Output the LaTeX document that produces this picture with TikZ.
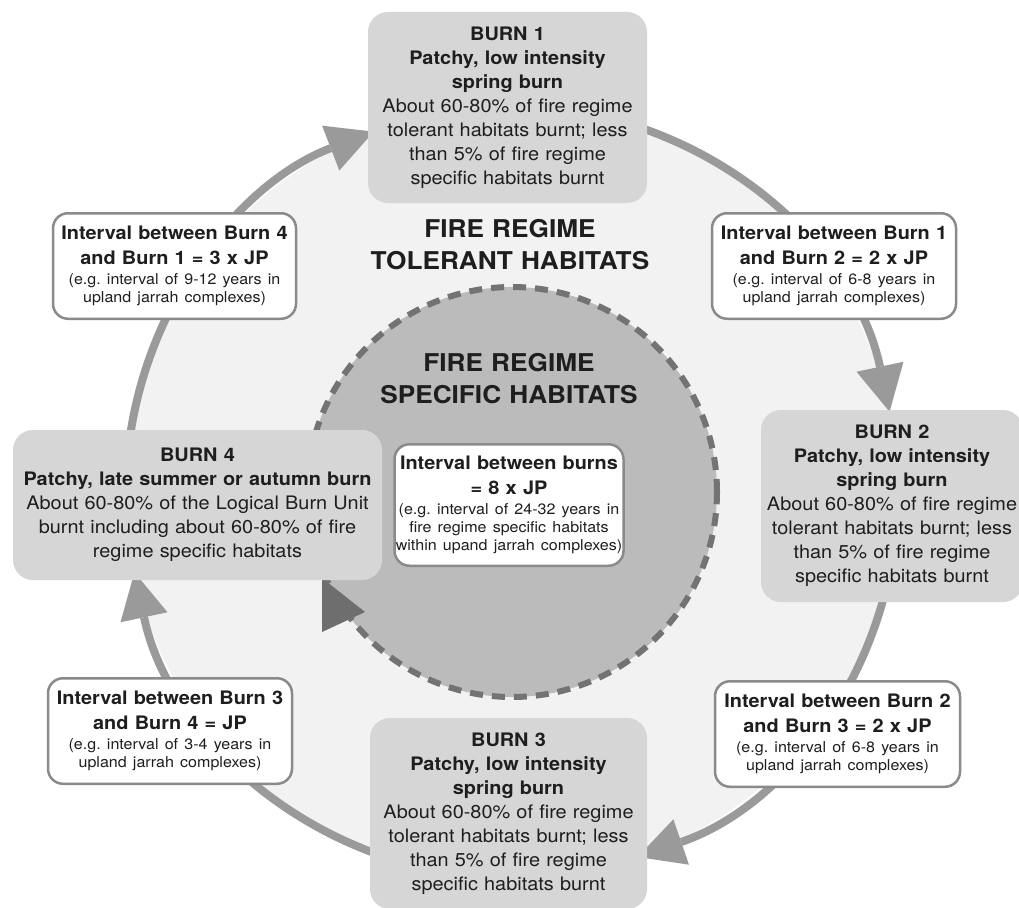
\documentclass[tikz,border=0pt]{standalone}
\usepackage{fontspec}
\setmainfont{TeX Gyre Heros}[FakeStretch=1.07]
\usepackage{tikz}
\usetikzlibrary{arrows.meta}
\frenchspacing

\definecolor{tolerantfill}{HTML}{F2F2F2}
\definecolor{specificfill}{HTML}{BBBBBB}
\definecolor{burnfill}{HTML}{D6D6D6}
\definecolor{ringgray}{HTML}{9A9A9A}
\definecolor{dashgray}{HTML}{737373}
\definecolor{edgegray}{HTML}{8A8A8A}
\definecolor{arrowdark}{HTML}{6E6E6E}
\definecolor{inktext}{HTML}{1E1E1E}

\tikzset{
  burnbox/.style={rectangle, rounded corners=20pt, fill=burnfill, text=inktext, align=center, inner sep=1pt, font=\fontsize{18.6}{24}\selectfont},
  intervalbox/.style={rectangle, rounded corners=15pt, draw=edgegray, line width=2.5pt, fill=white, text=inktext, align=center, inner sep=1pt, font=\fontsize{18.6}{25}\selectfont\bfseries},
  ringline/.style={draw=ringgray, line width=8pt},
  bigtitle/.style={text=inktext, align=center, text width=320pt, font=\fontsize{24.5}{32}\selectfont\bfseries}
}

\begin{document}
\begin{tikzpicture}[x=1pt, y=1pt, >={Triangle[length=46pt,width=48pt,line width=0pt]}]
    \useasboundingbox[fill=white] (0,0) rectangle (1019,-907);

    % the two habitat circles
    \node[circle, minimum size=772pt, inner sep=0pt, fill=tolerantfill] (tolerant) at (512,-492) {};
    \node[circle, minimum size=410pt, inner sep=0pt, fill=specificfill, draw=dashgray, line width=6pt, dash pattern=on 13pt off 9pt] (specific) at (512,-492) {};

    % the ring of arrows from burn to burn
    \draw[ringline, ->] ([shift={(175:386pt)}]tolerant.center) arc[start angle=175, end angle=111, radius=386pt];
    \draw[ringline, ->] ([shift={(85:386pt)}]tolerant.center) arc[start angle=85, end angle=12, radius=386pt];
    \draw[ringline, ->] ([shift={(0:386pt)}]tolerant.center) arc[start angle=0, end angle=-71, radius=386pt];
    \draw[ringline, ->] ([shift={(-95:386pt)}]tolerant.center) arc[start angle=-95, end angle=-168, radius=386pt];
    \fill[arrowdark] (322,-578) -- (365,-612) -- (322,-632) -- cycle;

    \node[bigtitle] (tolerantTitle) at (510,-245) {FIRE REGIME\\ TOLERANT HABITATS};
    \node[bigtitle] (specificTitle) at (509,-379) {FIRE REGIME\\ SPECIFIC HABITATS};

    % the burns
    \node[burnbox, text width=277pt, minimum height=191pt] (burn1) at (507.5,-107.5)
        {\textbf{BURN 1}\\ \textbf{Patchy, low intensity}\\ \textbf{spring burn}\\ About 60-80\% of fire regime\\ tolerant habitats burnt; less\\ than 5\% of fire regime\\ specific habitats burnt};
    \node[burnbox, text width=260pt, minimum height=192pt] (burn2) at (892,-506)
        {\textbf{BURN 2}\\ \textbf{Patchy, low intensity}\\ \textbf{spring burn}\\ About 60-80\% of fire regime\\ tolerant habitats burnt; less\\ than 5\% of fire regime\\ specific habitats burnt};
    \node[burnbox, text width=275pt, minimum height=191pt] (burn3) at (508.5,-813.5)
        {\textbf{BURN 3}\\ \textbf{Patchy, low intensity}\\ \textbf{spring burn}\\ About 60-80\% of fire regime\\ tolerant habitats burnt; less\\ than 5\% of fire regime\\ specific habitats burnt};
    \node[burnbox, text width=367pt, minimum height=150pt] (burn4) at (197.5,-505)
        {\textbf{BURN 4}\\ \textbf{Patchy, late summer or autumn burn}\\ About 60-80\% of the Logical Burn Unit\\ burnt including about 60-80\% of fire\\ regime specific habitats};

    % the intervals
    \node[intervalbox, text width=241pt, minimum height=105.5pt] (interval41) at (174.5,-266)
        {Interval between Burn 4\\ and Burn 1 = 3 x JP\par\vspace{2pt}{\fontsize{15}{18}\selectfont\mdseries (e.g. interval of 9-12 years in\\ upland jarrah complexes)\par}};
    \node[intervalbox, text width=242pt, minimum height=105.5pt] (interval12) at (834,-266)
        {Interval between Burn 1\\ and Burn 2 = 2 x JP\par\vspace{2pt}{\fontsize{15}{18}\selectfont\mdseries (e.g. interval of 6-8 years in\\ upland jarrah complexes)\par}};
    \node[intervalbox, text width=243pt, minimum height=105.5pt] (interval23) at (837.5,-734)
        {Interval between Burn 2\\ and Burn 3 = 2 x JP\par\vspace{2pt}{\fontsize{15}{18}\selectfont\mdseries (e.g. interval of 6-8 years in\\ upland jarrah complexes)\par}};
    \node[intervalbox, text width=242pt, minimum height=105.5pt] (interval34) at (170,-731)
        {Interval between Burn 3\\ and Burn 4 = JP\par\vspace{2pt}{\fontsize{15}{18}\selectfont\mdseries (e.g. interval of 3-4 years in\\ upland jarrah complexes)\par}};
    \node[intervalbox, text width=227pt, minimum height=121.5pt] (intervalAll) at (509,-505)
        {Interval between burns\\ = 8 x JP\par\vspace{2pt}{\fontsize{15}{18}\selectfont\mdseries (e.g. interval of 24-32 years in\\ fire regime specific habitats\\ within upand jarrah complexes)\par}};
\end{tikzpicture}
\end{document}
